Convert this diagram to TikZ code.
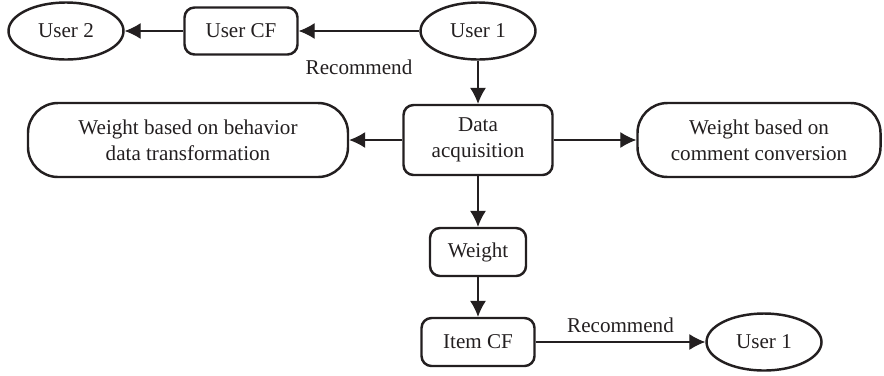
\documentclass[tikz,border=0pt]{standalone}
\usepackage{fontspec}
\setmainfont{Liberation Serif}
\usetikzlibrary{arrows.meta,positioning,shapes.geometric}
\definecolor{ink}{HTML}{231F20}
\tikzset{
  box/.style={draw=ink,text=ink,line width=1.4pt,rounded corners=2mm,align=center,inner sep=1pt,font=\fontsize{12}{15}\selectfont},
  widebox/.style={box,rounded corners=6mm,minimum width=#1,minimum height=1.48cm},
  oval/.style={draw=ink,text=ink,ellipse,line width=1.4pt,minimum width=2.3cm,minimum height=1.14cm,inner sep=0pt,font=\fontsize{12}{15}\selectfont},
  flow/.style={draw=ink,line width=0.6pt,-{Latex[length=3.2mm,width=3.2mm]}},
  lbl/.style={text=ink,font=\fontsize{12}{15}\selectfont},
}
\begin{document}
\begin{tikzpicture}
\useasboundingbox (0,0) rectangle (17.68,-7.5);

% top row
\node[oval] (user2) at (1.32,-0.62) {User 2};
\node[box,minimum width=2.26cm,minimum height=0.94cm] (usercf) at (4.82,-0.62) {User CF};
\node[oval] (user1) at (9.56,-0.62) {User 1};

% middle row
\node[box,minimum width=2.98cm,minimum height=1.4cm] (data) at (9.56,-2.8) {Data\\acquisition};
\node[widebox=6.4cm] (behavior) at (3.76,-2.8) {Weight based on behavior\\data transformation};
\node[widebox=4.86cm] (comment) at (15.18,-2.8) {Weight based on\\comment conversion};

% bottom column
\node[box,minimum width=1.92cm,minimum height=0.96cm] (weight) at (9.56,-5.04) {Weight};
\node[box,minimum width=2.26cm,minimum height=0.96cm] (itemcf) at (9.56,-6.84) {Item CF};
\node[oval] (user1b) at (15.28,-6.84) {User 1};

\draw[flow] (user1) -- node[lbl,below=4.5mm] (rec1) {Recommend} (usercf);
\draw[flow] (usercf) -- (user2);
\draw[flow] (user1) -- (data);
\draw[flow] (data) -- (behavior);
\draw[flow] (data) -- (comment);
\draw[flow] (data) -- (weight);
\draw[flow] (weight) -- (itemcf);
\draw[flow] (itemcf) -- node[lbl,above=0.5mm] (rec2) {Recommend} (user1b);

\end{tikzpicture}
\end{document}
